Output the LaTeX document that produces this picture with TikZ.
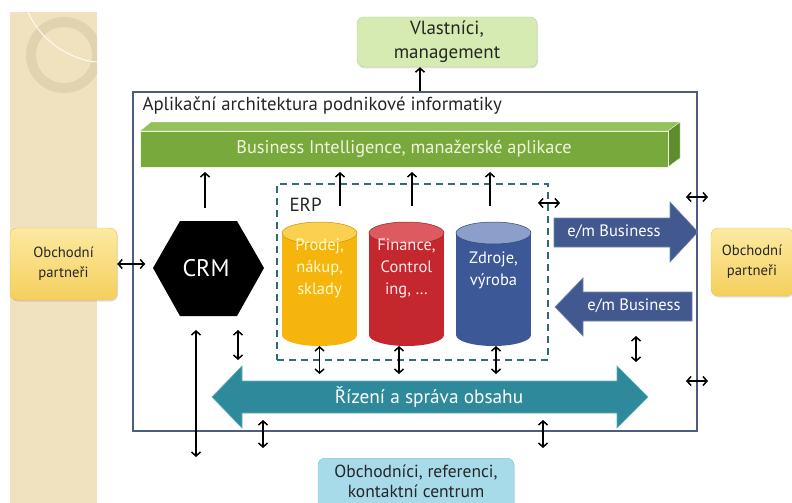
\documentclass[tikz,border=0pt]{standalone}
\usepackage{fontspec}
\setmainfont{PT Sans}
\usetikzlibrary{arrows.meta,shapes.geometric,shadows}
\definecolor{beige}{HTML}{F1E2BF}
\definecolor{beigering}{HTML}{E2D3B0}
\definecolor{vlgreen}{HTML}{D6EBB2}
\definecolor{vlgreenb}{HTML}{B5D38A}
\definecolor{boxblue}{HTML}{4D5C83}
\definecolor{bifront}{HTML}{78A93D}
\definecolor{bitop}{HTML}{93C25A}
\definecolor{biside}{HTML}{5F8C2C}
\definecolor{bitext}{HTML}{F0F5DC}
\definecolor{tealc}{HTML}{2E8A9B}
\definecolor{tealb}{HTML}{5FB0BF}
\definecolor{erpdash}{HTML}{2F6B70}
\definecolor{cyly}{HTML}{F6B50C}
\definecolor{cylyt}{HTML}{FAD050}
\definecolor{cylr}{HTML}{C4272E}
\definecolor{cylrt}{HTML}{DC5A60}
\definecolor{cylb}{HTML}{3D5896}
\definecolor{cylbt}{HTML}{8C9FCA}
\definecolor{embiz}{HTML}{41598F}
\definecolor{embizb}{HTML}{7084B5}
\definecolor{partt}{HTML}{FCEAA2}
\definecolor{partb}{HTML}{F5CF5C}
\definecolor{partd}{HTML}{E6C25A}
\definecolor{botbox}{HTML}{A8DBEA}
\definecolor{botboxb}{HTML}{7EBFD2}
\definecolor{txt}{HTML}{262626}
\begin{document}
\begin{tikzpicture}[x=1pt,y=-1pt,
  every node/.style={text=txt},
  arr/.style={line width=1.5pt,-{Straight Barb[length=4pt,width=9pt]}},
  darr/.style={line width=1.5pt,{Straight Barb[length=4pt,width=9pt]}-{Straight Barb[length=4pt,width=9pt]}},
  rbox/.style={rounded corners=7pt,align=center,inner sep=0pt,
    drop shadow={opacity=0.25,shadow xshift=1pt,shadow yshift=-1.5pt}},
  cyltext/.style={align=center,font=\fontsize{16.5}{22}\selectfont},
]
\useasboundingbox (0,0) rectangle (792,503);
% left decorative strip
\fill[beige] (10,12) rectangle (97,503);
\begin{scope}
\clip (10,12) rectangle (97,503);
\draw[beigering,line width=10pt] (64,55) circle (33);
\draw[white,line width=0.8pt] (28,12) .. controls (40,40) and (70,60) .. (97,62);
\end{scope}

% owners box
\node[rbox,fill=vlgreen,draw=vlgreenb,minimum width=180pt,minimum height=50pt,
  font=\fontsize{19}{24}\selectfont] (own) at (447,42) {Vlastníci,\\management};

% main box
\node[draw=boxblue,line width=1.2pt,minimum width=564pt,minimum height=339pt,inner sep=0pt] (main) at (415,261.5) {};
\node[anchor=west,font=\fontsize{18.8}{20}\selectfont] (title) at (139,106) {Aplikační architektura podnikové informatiky};
\draw[arr] ([xshift=5pt]main.north) -- ([xshift=5pt]main.north |- own.south);

% BI bar
\fill[bitop,draw=bitext,line width=0.4pt] (140,131) -- (151,122) -- (680,122) -- (668,131) -- cycle;
\fill[biside,draw=bitext,line width=0.4pt] (668,131) -- (680,122) -- (680,158) -- (668,167) -- cycle;
\node[fill=bifront,draw=bitext,line width=0.4pt,minimum width=528pt,minimum height=36pt,inner sep=0pt,
  text=bitext,font=\fontsize{18.3}{20}\selectfont] (bi) at (404,149) {Business Intelligence, manažerské aplikace};

% ERP dashed frame
\node[draw=erpdash,line width=1.8pt,dash pattern=on 7pt off 5pt,minimum width=271pt,minimum height=176pt,inner sep=0pt] (erp) at (412.5,272) {};
\node[anchor=west,font=\fontsize{19}{20}\selectfont] (erpl) at (286,205) {ERP};

% CRM hexagon
\fill[black] (153,268) -- (180,221) -- (237,221) -- (264,268) -- (237,316) -- (180,316) -- cycle;
\node[text=white,font=\fontsize{24}{26}\selectfont] (crm) at (206,268) {CRM};

% cylinders
\foreach \cx/\cb/\ct/\nm in {319.5/cyly/cylyt/c1,406.5/cylr/cylrt/c2,493.5/cylb/cylbt/c3}{
  \fill[\cb] (\cx,335) ellipse (37.5 and 11);
  \fill[\cb] (\cx-37.5,233) rectangle (\cx+37.5,335);
  \fill[\ct,draw=\cb!80!black,line width=0.5pt] (\cx,233) ellipse (37.5 and 11);
  \coordinate (\nm) at (\cx,346);
}
\node[cyltext,text=yellow!20!white] (t1) at (319.5,268) {Prodej,\\nákup,\\sklady};
\node[cyltext,text=red!8!white] (t2) at (406.5,268) {Finance,\\Control\\ing, …};
\node[cyltext,text=white] (t3) at (493.5,270) {Zdroje,\\výroba};

% arrows up to BI
\draw[arr] (205,208) -- (205,172);
\draw[arr] (340,206) -- (340,172);
\draw[arr] (412,206) -- (412,172);
\draw[arr] (490,206) -- (490,172);

% e/m Business arrows
\filldraw[fill=embiz,draw=embizb,line width=0.6pt] (554,218) -- (670,218) -- (670,202) -- (698,232) -- (670,262) -- (670,247) -- (554,247) -- cycle;
\node[text=white,font=\fontsize{16.5}{18}\selectfont] (em1) at (614,232) {e/m Business};
\filldraw[fill=embiz,draw=embizb,line width=0.6pt] (555,307) -- (583,278) -- (583,292) -- (692,292) -- (692,321) -- (583,321) -- (583,336) -- cycle;
\node[text=white,font=\fontsize{16.5}{18}\selectfont] (em2) at (634,306) {e/m Business};

% partner boxes
\node[rbox,top color=partt,bottom color=partb,draw=partd,minimum width=107pt,minimum height=72pt,
  font=\fontsize{14.7}{20}\selectfont] (pl) at (63.5,264) {Obchodní\\partneři};
\node[rbox,top color=partt,bottom color=partb,draw=partd,minimum width=82pt,minimum height=68pt,
  font=\fontsize{14.7}{20}\selectfont] (pr) at (752,262) {Obchodní\\partneři};

% small horizontal double arrows
\draw[darr] (pl.east) -- ++(28,0);
\draw[darr] (538,203) -- (560,203);
\draw[darr] (686,197) -- (708,197);
\draw[darr] (686,381) -- (708,381);

% content management arrow
\filldraw[fill=tealc,draw=tealb,line width=0.6pt] (212,397) -- (242,366) -- (242,381) -- (617,381) -- (617,366) -- (648,397) -- (617,428) -- (617,413) -- (242,413) -- (242,428) -- cycle;
\node[text=white,font=\fontsize{19.3}{21}\selectfont] (rso) at (429,397) {Řízení a správa obsahu};

% vertical double arrows
\draw[darr] (196,330) -- (196,457);
\draw[darr] (238,330) -- (238,360);
\draw[darr] (c1) -- ++(0,28);
\draw[darr] ([xshift=-7.5pt]c2) -- ++(0,28);
\draw[darr] ([xshift=2.5pt]c3) -- ++(0,28);
\draw[darr] (636,336) -- (636,362);
\draw[darr] (263,420) -- (263,448);
\draw[darr] (543,420) -- (543,448);

% bottom box
\node[rbox,fill=botbox,draw=botboxb,minimum width=196pt,minimum height=60pt,anchor=north] (bot) at (416,458) {};
\node[align=center,font=\fontsize{17.5}{20}\selectfont] (bott) at (bot.north |- 0,481) {Obchodníci, referenci,\\kontaktní centrum};
\end{tikzpicture}
\end{document}
